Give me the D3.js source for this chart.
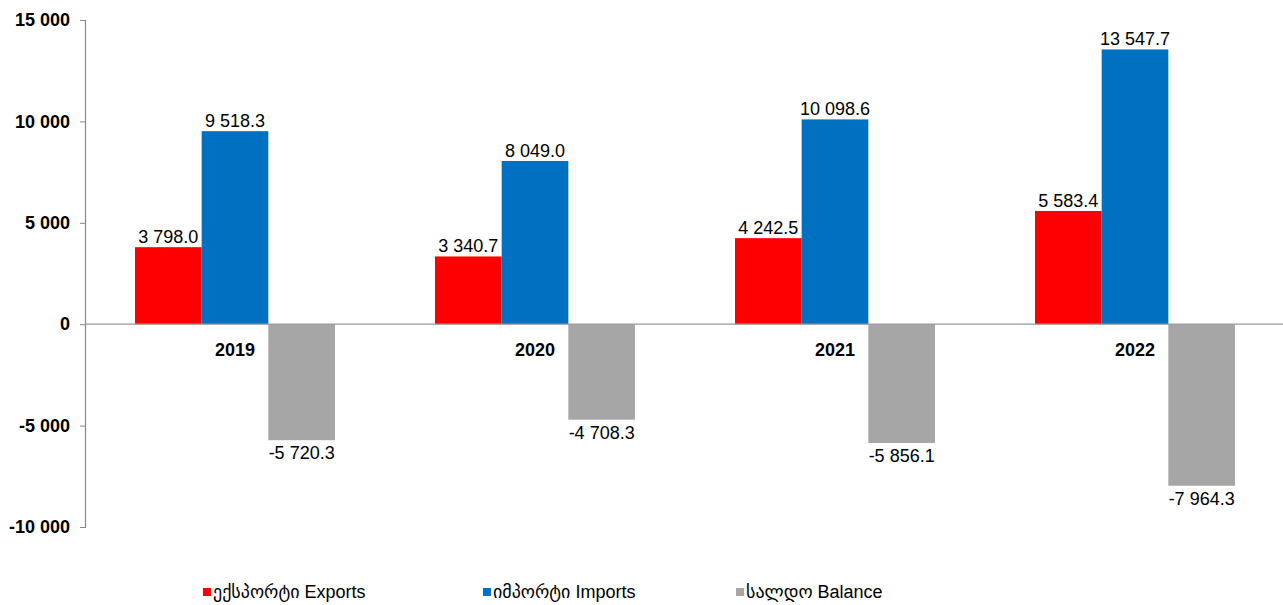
<!DOCTYPE html>
<html>
<head>
<meta charset="utf-8">
<script src="https://cdn.jsdelivr.net/npm/d3@7"></script>
<style>
  body { margin: 0; background: #fff; }
  text { font-family: Arial, "Liberation Sans", "DejaVu Sans", sans-serif; }
</style>
</head>
<body>
<script>
// data
var years = ['2019', '2020', '2021', '2022'];
var exportsVals = [3798.0, 3340.7, 4242.5, 5583.4];
var importsVals = [9518.3, 8049.0, 10098.6, 13547.7];
var balanceVals = [-5720.3, -4708.3, -5856.1, -7964.3];
var seriesNames = ['ექსპორტი Exports', 'იმპორტი Imports', 'სალდო Balance'];
var yTicks = [-10000, -5000, 0, 5000, 10000, 15000];

var colors = ['#ff0000', '#0070c0', '#a6a6a6'];

var W = 1283, H = 605;
var m = { left: 85, right: 1285, top: 20, bottom: 527 };

var svg = d3.select('body').append('svg')
    .attr('width', W)
    .attr('height', H);

var x = d3.scaleBand()
    .domain(years)
    .range([m.left, m.right])
    .paddingInner(1 / 3)
    .paddingOuter(1 / 6);

var x1 = d3.scaleBand()
    .domain([0, 1, 2])
    .range([0, x.bandwidth()]);

var y = d3.scaleLinear()
    .domain([-10000, 15000])
    .range([m.bottom, m.top]);

// number format with space as thousands separator
var loc = d3.formatLocale({ decimal: '.', thousands: ' ', grouping: [3], currency: ['', ''], minus: '-' });
var fmtTick = loc.format(',.0f');
var fmtVal = loc.format(',.1f');

// y axis
var yAxis = d3.axisLeft(y).tickValues(yTicks).tickSize(5).tickFormat(fmtTick);
var gy = svg.append('g')
    .attr('transform', 'translate(' + m.left + ',0)')
    .call(yAxis);
gy.select('.domain').attr('stroke', '#888').attr('stroke-width', 1.2);
gy.selectAll('.tick line').attr('stroke', '#888');
gy.selectAll('.tick text')
    .attr('x', -15)
    .attr('fill', '#000')
    .style('font-size', '18px')
    .style('font-weight', 'bold');

var rows = years.map(function (yr, i) {
    return { year: yr, vals: [exportsVals[i], importsVals[i], balanceVals[i]] };
});

var groups = svg.selectAll('.grp')
    .data(rows)
    .enter().append('g')
    .attr('class', 'grp')
    .attr('transform', function (d) { return 'translate(' + x(d.year) + ',0)'; });

groups.selectAll('rect')
    .data(function (d) { return d.vals; })
    .enter().append('rect')
    .attr('x', function (d, i) { return x1(i); })
    .attr('width', x1.bandwidth())
    .attr('y', function (d) { return y(Math.max(0, d)); })
    .attr('height', function (d) { return Math.abs(y(d) - y(0)); })
    .attr('fill', function (d, i) { return colors[i]; });

groups.selectAll('.val')
    .data(function (d) { return d.vals; })
    .enter().append('text')
    .attr('class', 'val')
    .attr('x', function (d, i) { return x1(i) + x1.bandwidth() / 2; })
    .attr('y', function (d) { return d >= 0 ? y(d) - 4 : y(d) + 19; })
    .attr('text-anchor', 'middle')
    .style('font-size', '18px')
    .text(function (d) { return fmtVal(d); });

// zero line
svg.append('line')
    .attr('x1', m.left).attr('x2', W)
    .attr('y1', y(0)).attr('y2', y(0))
    .attr('stroke', '#999')
    .attr('stroke-width', 1.2);

// category labels just under the zero line
svg.selectAll('.cat')
    .data(years)
    .enter().append('text')
    .attr('class', 'cat')
    .attr('x', function (d) { return x(d) + x.bandwidth() / 2; })
    .attr('y', y(0) + 32)
    .attr('text-anchor', 'middle')
    .style('font-size', '18px')
    .style('font-weight', 'bold')
    .text(function (d) { return d; });

// legend
var legX = [203, 483, 736];
var leg = svg.selectAll('.leg')
    .data(seriesNames)
    .enter().append('g')
    .attr('class', 'leg')
    .attr('transform', function (d, i) { return 'translate(' + legX[i] + ',598)'; });
leg.append('rect')
    .attr('x', 0).attr('y', -10)
    .attr('width', 8).attr('height', 8)
    .attr('fill', function (d, i) { return colors[i]; });
leg.append('text')
    .attr('x', 10)
    .attr('y', 0)
    .style('font-size', '18px')
    .text(function (d) { return d; });
</script>
</body>
</html>
